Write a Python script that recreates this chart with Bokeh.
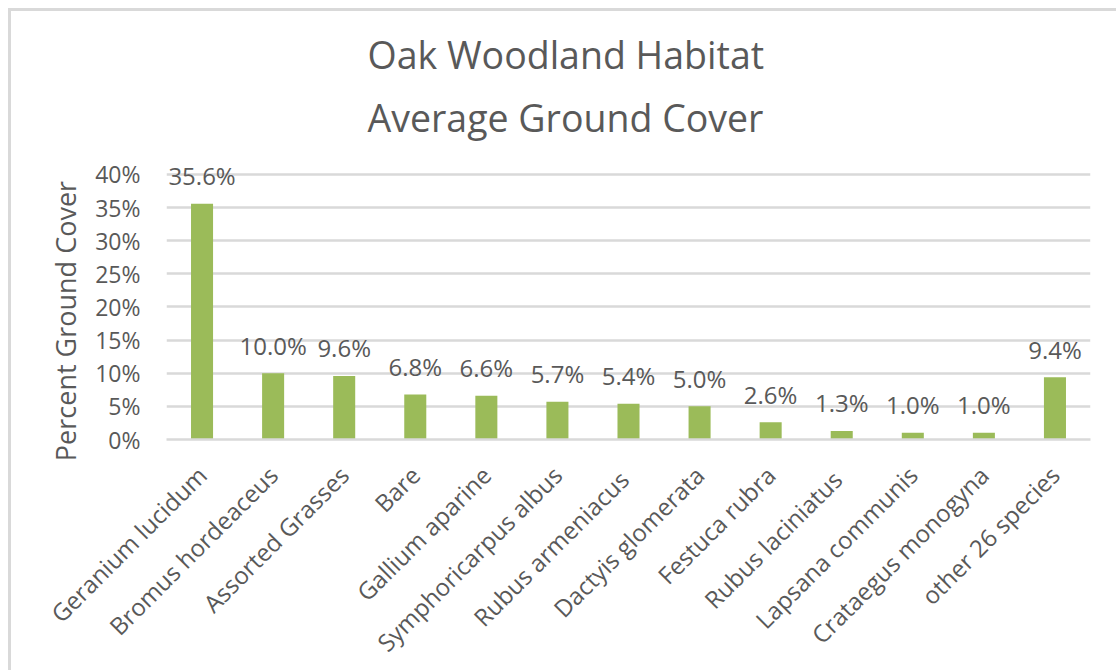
import math
from bokeh.plotting import figure
from bokeh.models import ColumnDataSource, LabelSet, Title, FixedTicker, PrintfTickFormatter
from bokeh.core.properties import value
from bokeh.embed import file_html
from bokeh.resources import INLINE

categories = ["Geranium lucidum", "Bromus hordeaceus", "Assorted Grasses", "Bare",
              "Gallium aparine", "Symphoricarpus albus", "Rubus  armeniacus",
              "Dactyis glomerata", "Festuca rubra", "Rubus  laciniatus",
              "Lapsana communis", "Crataegus monogyna", "other 26 species"]
cover_pct = [35.6, 10.0, 9.6, 6.8, 6.6, 5.7, 5.4, 5.0, 2.6, 1.3, 1.0, 1.0, 9.4]
y_ticks = [0, 5, 10, 15, 20, 25, 30, 35, 40]
title_lines = ["Oak Woodland Habitat", "Average Ground Cover"]
y_title = "Percent Ground Cover"

FONT = "Open Sans"
TXT = "#595959"
GRID = "#d9d9d9"
BAR = "#9BBB59"

src = ColumnDataSource(dict(cat=categories, v=cover_pct,
                            lab=[f"{v:.1f}%" for v in cover_pct]))

# frame extends slightly above the 40% line so the top data label is not clipped
p = figure(x_range=categories, y_range=(0, 42.11),
           frame_width=924, frame_height=279,
           min_border_left=155, min_border_right=26,
           min_border_top=149, min_border_bottom=231,
           output_backend="svg", toolbar_location=None,
           background_fill_color="white", border_fill_color="white")
p.styles = {"margin-left": "8px", "margin-top": "8px",
            "border-left": f"3px solid {GRID}", "border-top": f"3px solid {GRID}"}
p.outline_line_color = None

p.vbar(x="cat", top="v", width=0.31, source=src, color=BAR, line_color=None)
p.add_layout(LabelSet(x="cat", y="v", text="lab", source=src, text_align="center",
                      text_baseline="middle", y_offset=28, text_color=TXT,
                      text_font=value(FONT), text_font_size="24px"))

p.xgrid.grid_line_color = None
p.ygrid.grid_line_color = GRID
p.ygrid.grid_line_width = 2.5
p.yaxis.ticker = FixedTicker(ticks=y_ticks)
p.yaxis.formatter = PrintfTickFormatter(format="%d%%")
p.yaxis.axis_line_color = None
p.yaxis.major_tick_line_color = None
p.yaxis.minor_tick_line_color = None
p.yaxis.major_label_text_font = FONT
p.yaxis.major_label_text_font_size = "23px"
p.yaxis.major_label_text_color = TXT
p.yaxis.major_label_standoff = 20
# trailing no-break spaces shift the centred label down to sit beside the 0-40% span
p.yaxis.axis_label = y_title + "\u00a0" * 6
p.yaxis.axis_label_text_font = FONT
p.yaxis.axis_label_text_font_style = "normal"
p.yaxis.axis_label_text_font_size = "27px"
p.yaxis.axis_label_text_color = TXT
p.yaxis.axis_label_standoff = 8

p.xaxis.axis_line_color = GRID
p.xaxis.axis_line_width = 2.5
p.xaxis.major_tick_line_color = None
p.xaxis.minor_tick_line_color = None
p.xaxis.major_label_orientation = math.pi / 4
p.xaxis.major_label_text_font = FONT
p.xaxis.major_label_text_font_size = "24px"
p.xaxis.major_label_text_color = TXT
p.xaxis.major_label_standoff = 25

for txt, so in zip(reversed(title_lines), [35, -15]):
    p.add_layout(Title(text=txt, align="left", offset=201, text_color=TXT,
                       text_font=FONT, text_font_style="normal",
                       text_font_size="37.5px", standoff=so), "above")

open("out.html", "w").write(file_html(p, INLINE))
